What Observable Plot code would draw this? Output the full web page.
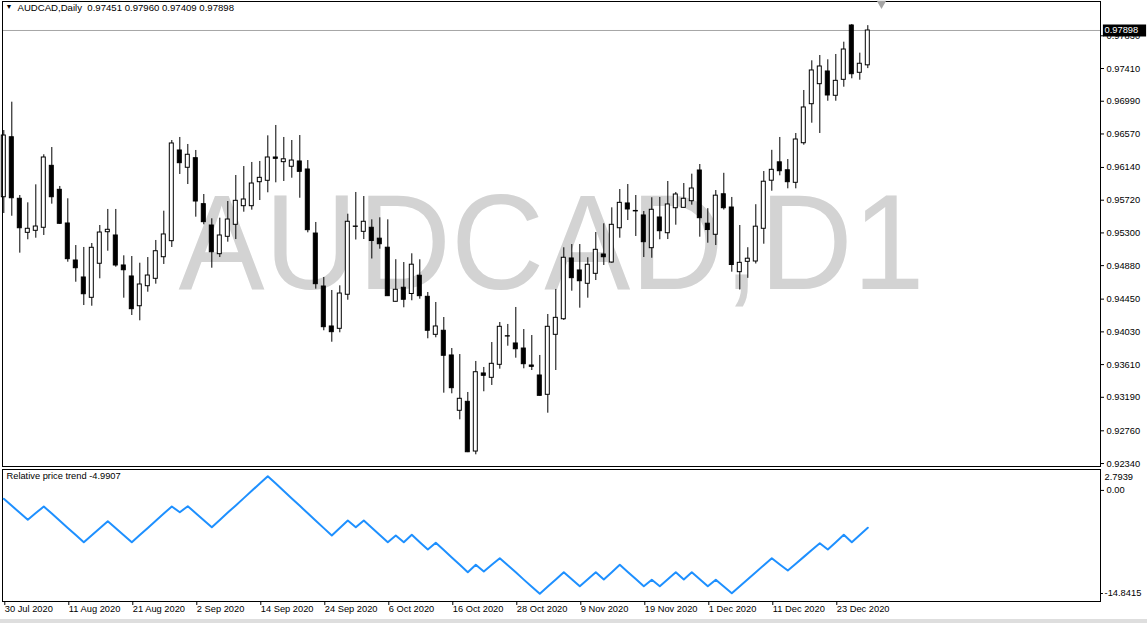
<!DOCTYPE html>
<html><head><meta charset="utf-8">
<script src="https://cdn.jsdelivr.net/npm/d3@7"></script>
<script src="https://cdn.jsdelivr.net/npm/@observablehq/plot@0.6"></script>
<style>
body{margin:0;background:#fff;}
#wrap{position:relative;width:1147px;height:623px;overflow:hidden;background:#fff;}
#wrap svg{position:absolute;left:0;overflow:visible;}
#band{position:absolute;left:0;top:619px;width:1147px;height:4px;background:#dedede;}
</style></head><body><div id="wrap"><div id="band"></div></div>
<script>
const headerText = "AUDCAD,Daily  0.97451 0.97960 0.97409 0.97898";
const watermark = "AUDCAD,D1";
const indicatorTitle = "Relative price trend -4.9907";

const openP = [0.95758,0.96528,0.95738,0.95301,0.95327,0.95366,0.96161,0.95853,0.95421,0.94946,
0.94728,0.94467,0.94904,0.95309,0.95267,0.94882,0.94741,0.94359,0.94616,0.94711,
0.94988,0.95194,0.96358,0.96136,0.96259,0.95669,0.95395,0.95027,0.95250,0.95404,
0.95643,0.95643,0.95951,0.95969,0.96268,0.96208,0.96149,0.96217,0.96114,0.95292,
0.94612,0.94099,0.94069,0.94506,0.95382,0.95314,0.95366,0.95226,0.95110,0.94416,
0.94596,0.94516,0.94750,0.94480,0.93992,0.94044,0.93727,0.93017,0.93132,0.92494,
0.93496,0.93440,0.93607,0.93974,0.93881,0.93816,0.93598,0.93470,0.93222,0.93992,
0.94192,0.94972,0.94818,0.94647,0.94775,0.95023,0.94920,0.95360,0.95678,0.95582,
0.95524,0.95104,0.95498,0.95296,0.95617,0.95622,0.95707,0.96101,0.95418,0.95276,
0.95796,0.95626,0.94796,0.94929,0.94933,0.95353,0.95970,0.96206,0.96104,0.95943,
0.96451,0.96952,0.97209,0.97372,0.97060,0.97265,0.97962,0.97355,0.97451];
const highP = [0.96614,0.96978,0.95780,0.95686,0.95917,0.96303,0.96396,0.95896,0.95738,0.95138,
0.95113,0.95164,0.95395,0.95601,0.95601,0.95006,0.94997,0.94911,0.94984,0.95203,
0.95579,0.96486,0.96525,0.96435,0.96358,0.95793,0.95481,0.95489,0.95703,0.96037,
0.96152,0.96204,0.96217,0.96546,0.96679,0.96525,0.96486,0.96550,0.96229,0.95434,
0.94728,0.94561,0.94621,0.95540,0.95819,0.95767,0.95468,0.95494,0.95468,0.94956,
0.94920,0.95032,0.94955,0.94535,0.94407,0.94214,0.93816,0.93739,0.93252,0.93650,
0.93573,0.93893,0.94150,0.94125,0.94343,0.94060,0.93983,0.93727,0.94253,0.94574,
0.95109,0.95151,0.95151,0.94981,0.95305,0.95417,0.95622,0.95857,0.95921,0.95780,
0.95575,0.95751,0.95755,0.95960,0.95819,0.95934,0.96054,0.96178,0.95611,0.95844,
0.96065,0.95755,0.95395,0.95110,0.95662,0.96088,0.96360,0.96525,0.96242,0.96576,
0.97128,0.97509,0.97577,0.97522,0.97590,0.97748,0.97975,0.97607,0.97960];
const lowP = [0.95549,0.95514,0.95040,0.95212,0.95232,0.95267,0.95669,0.95408,0.94924,0.94667,
0.94368,0.94359,0.94711,0.95065,0.94860,0.94462,0.94240,0.94172,0.94539,0.94642,
0.94895,0.95113,0.96050,0.95921,0.95502,0.95404,0.94847,0.94984,0.95181,0.95215,
0.95566,0.95592,0.95716,0.95815,0.95943,0.95960,0.96002,0.95745,0.95301,0.94578,
0.94044,0.93897,0.94018,0.94436,0.95209,0.95215,0.94965,0.95091,0.94484,0.94413,
0.94339,0.94429,0.94449,0.93941,0.93954,0.93243,0.93235,0.92901,0.92480,0.92452,
0.93261,0.93342,0.93551,0.93846,0.93692,0.93556,0.93534,0.93205,0.92986,0.93534,
0.94176,0.94552,0.94334,0.94462,0.94689,0.94882,0.94911,0.95232,0.95459,0.95254,
0.94984,0.94975,0.95212,0.95215,0.95399,0.95620,0.95656,0.95245,0.95168,0.95138,
0.95594,0.94796,0.94567,0.94717,0.94901,0.95155,0.95835,0.96033,0.95866,0.95866,
0.96426,0.96708,0.96576,0.96990,0.96990,0.97170,0.97278,0.97260,0.97409];
const closeP = [0.96550,0.95745,0.95360,0.95353,0.95382,0.96268,0.95758,0.95417,0.94963,0.94847,
0.94513,0.95109,0.95305,0.95340,0.94882,0.94821,0.94321,0.94638,0.94753,0.95065,
0.95280,0.96448,0.96195,0.96303,0.95703,0.95438,0.95052,0.95267,0.95472,0.95712,
0.95729,0.95934,0.96007,0.96268,0.96251,0.96245,0.96229,0.96084,0.95335,0.94642,
0.94090,0.94026,0.94522,0.95443,0.95378,0.95443,0.95196,0.95155,0.94488,0.94570,
0.94442,0.94892,0.94488,0.94044,0.94099,0.93723,0.93307,0.93171,0.92485,0.93512,
0.93466,0.93620,0.94095,0.93970,0.93807,0.93615,0.93581,0.93209,0.94095,0.94210,
0.94981,0.94719,0.94680,0.94891,0.95083,0.94988,0.95404,0.95686,0.95601,0.95576,
0.95181,0.95597,0.95322,0.95665,0.95793,0.95738,0.95870,0.95489,0.95337,0.95778,
0.95617,0.94888,0.94916,0.94969,0.95380,0.95957,0.96110,0.96092,0.95951,0.96499,
0.96910,0.97385,0.97436,0.97064,0.97252,0.97654,0.97337,0.97471,0.97898];
const trendValues = [-1.12,-2.06,-2.99,-3.93,-3.03,-2.15,-3.10,-4.06,-5.01,-5.97,
-6.92,-5.98,-5.05,-4.11,-5.05,-5.98,-6.92,-5.97,-5.01,-4.06,
-3.10,-2.15,-2.91,-2.11,-3.04,-3.98,-4.92,-3.94,-2.96,-2.00,
-1.03,-0.05,0.92,1.90,0.91,-0.08,-1.07,-2.06,-3.06,-4.05,
-5.04,-6.02,-5.02,-4.02,-4.92,-4.02,-4.98,-5.96,-6.92,-6.02,
-6.92,-5.93,-6.92,-7.89,-7.00,-7.97,-8.96,-9.94,-10.93,-9.94,
-10.83,-9.94,-9.06,-10.01,-10.95,-11.92,-12.86,-13.81,-12.85,-11.89,
-10.93,-11.86,-12.80,-11.86,-10.93,-11.90,-10.93,-9.94,-10.89,-11.85,
-12.80,-11.94,-12.80,-11.86,-10.93,-11.90,-10.93,-11.86,-12.80,-11.94,
-12.84,-13.73,-12.80,-11.86,-10.93,-9.99,-9.06,-9.89,-10.70,-9.79,
-8.88,-7.96,-7.05,-7.89,-6.92,-5.93,-6.92,-5.96,-4.9907];

const dateTickIndex = [0,8,16,24,32,40,48,56,64,72,80,88,96,104];
const dateTickLabels = ["30 Jul 2020","11 Aug 2020","21 Aug 2020","2 Sep 2020","14 Sep 2020","24 Sep 2020","6 Oct 2020","16 Oct 2020","28 Oct 2020","9 Nov 2020","19 Nov 2020","1 Dec 2020","11 Dec 2020","23 Dec 2020"];
const priceTicks = [0.97830,0.97410,0.96990,0.96570,0.96140,0.95720,0.95300,0.94880,0.94450,0.94030,0.93610,0.93190,0.92760,0.92340];
const trendMax = 2.7939, trendMin = -14.8415, trendLevel = 0;

const FONT = "'Liberation Sans', Arial, sans-serif";
const bars = openP.map((o, i) => ({i, o, h: highP[i], l: lowP[i], c: closeP[i]}));
const last = bars[bars.length - 1];
const xDomain = [-0.1625, 137.0875];
const W = 1147;

const wrap = document.getElementById("wrap");

const p1 = Plot.plot({
  width: W, height: 467,
  marginLeft: 2, marginRight: 47, marginTop: 1, marginBottom: 1,
  x: {domain: xDomain, axis: null},
  y: {domain: [0.923019, 0.982702], axis: null},
  style: {fontFamily: FONT, fontSize: "9.3px", background: "transparent", overflow: "visible", color: "black"},
  marks: [
    Plot.text([watermark], {frameAnchor: "left", textAnchor: "start", fontSize: 136, fill: "#d3d3d3", dy: 11, dx: 176, fontFamily: FONT}),
    Plot.ruleY([last.c], {stroke: "#a6a6a6"}),
    Plot.ruleX(bars, {x: "i", y1: "l", y2: "h", stroke: "black"}),
    Plot.rect(bars, {x1: d => d.i - 0.25, x2: d => d.i + 0.25, y1: "o", y2: "c",
      fill: d => d.c >= d.o ? "white" : "black", stroke: "black"}),
    Plot.frame({stroke: "black"}),
    Plot.axisY(priceTicks, {anchor: "right", label: null, tickSize: 3, tickPadding: 3, tickFormat: d => d.toFixed(5), fontSize: 9.3}),
    Plot.ruleY([last.c], {x1: 137.45, x2: 142.85, stroke: "black", strokeWidth: 12}),
    Plot.text([last.c], {x: 137.6, y: d => d, text: d => d.toFixed(5), fill: "white", textAnchor: "start", fontSize: 9.3}),
    Plot.text(["\u25BC"], {frameAnchor: "top-left", dx: 3, dy: 3, fontSize: 7, fill: "black"}),
    Plot.text([headerText], {frameAnchor: "top-left", dx: 15, dy: 3, fontSize: 9.6, fill: "black"}),
    Plot.dot([0], {frameAnchor: "top-left", dx: 879, dy: 2, symbol: "triangle", rotate: 180, r: 3.5, fill: "#a6a6a6", stroke: "none"})
  ]
});
d3.select(p1).selectAll("text").filter(function() { return this.textContent === watermark; })
  .attr("textLength", 746).attr("lengthAdjust", "spacingAndGlyphs");
p1.style.top = "0px";
wrap.appendChild(p1);

const p2 = Plot.plot({
  width: W, height: 156,
  marginLeft: 2, marginRight: 47, marginTop: 2, marginBottom: 22,
  x: {domain: xDomain, axis: null},
  y: {domain: [trendMin, trendMax], axis: null},
  style: {fontFamily: FONT, fontSize: "9.3px", background: "transparent", overflow: "visible", color: "black"},
  marks: [
    Plot.frame({stroke: "black"}),
    Plot.line(trendValues.map((v, i) => ({i, v})), {x: "i", y: "v", stroke: "#1e90ff", strokeWidth: 2}),
    Plot.axisX(dateTickIndex, {anchor: "bottom", label: null, tickSize: 4, tickPadding: 0, textAnchor: "start", dx: 1,
      tickFormat: d => dateTickLabels[dateTickIndex.indexOf(d)], fontSize: 9.3}),
    Plot.axisY([trendLevel], {anchor: "right", label: null, tickSize: 3, tickPadding: 3, tickFormat: d => d.toFixed(2), fontSize: 9.3}),
    Plot.ruleY([trendMin], {x1: 137.1, x2: 137.45, dy: -8, stroke: "black"}),
    Plot.text([trendMax], {x: 137.6, y: d => d, dy: 8, text: d => d.toFixed(4), textAnchor: "start", fontSize: 9.3}),
    Plot.text([trendMin], {x: 137.6, y: d => d, dy: -8, text: d => d.toFixed(4), textAnchor: "start", fontSize: 9.3}),
    Plot.text([indicatorTitle], {frameAnchor: "top-left", dx: 4, dy: 3, fontSize: 9.3, fill: "black"})
  ]
});
p2.style.top = "467px";
wrap.appendChild(p2);
</script></body></html>
